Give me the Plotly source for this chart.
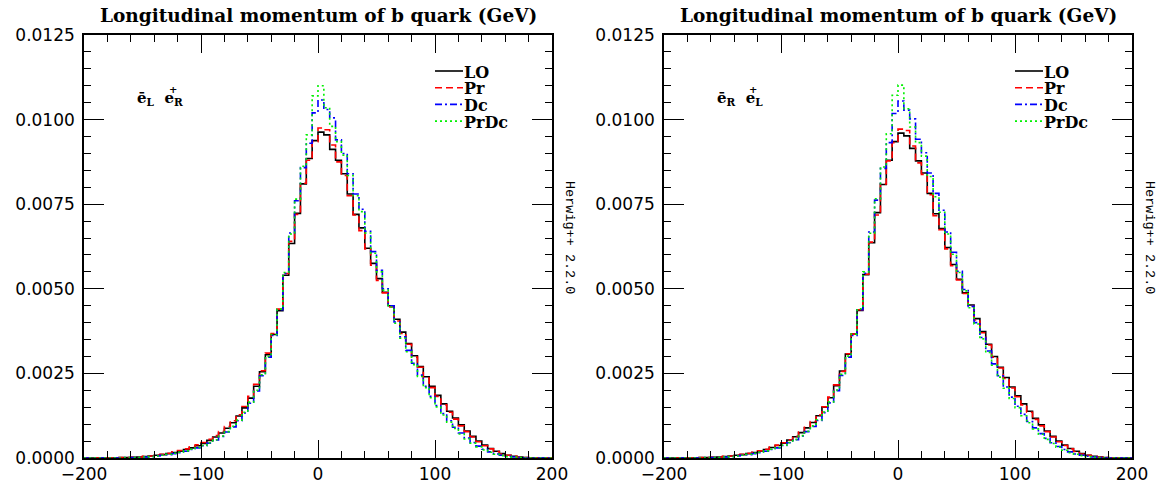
import plotly.graph_objects as go

W, H = 1176, 492

# 5 GeV bins from -200 to 200 GeV (left edges)
bin_left = list(range(-200, 200, 5))

# ---- left panel: e_L^- e_R^+ ----
lo_left = [0, 0, 0, 0, 0, 0, 0.00001, 0.00001, 0.00002, 0.00003,
           0.00004, 0.00006, 0.00008, 0.00010, 0.00013, 0.00016, 0.00020, 0.00025, 0.00030, 0.00036,
           0.00043, 0.00052, 0.00062, 0.00074, 0.00088, 0.00104, 0.00124, 0.00148, 0.00177, 0.00212,
           0.00255, 0.00305, 0.00365, 0.00435, 0.00540, 0.00634, 0.00723, 0.00810, 0.00885, 0.00938,
           0.00963, 0.00955, 0.00912, 0.00880, 0.00840, 0.00780, 0.00720, 0.00680, 0.00620, 0.00575,
           0.00530, 0.00490, 0.00450, 0.00410, 0.00372, 0.00338, 0.00302, 0.00270, 0.00240, 0.00212,
           0.00185, 0.00160, 0.00138, 0.00118, 0.00098, 0.00080, 0.00064, 0.00050, 0.00038, 0.00028,
           0.00020, 0.00013, 0.00008, 0.00005, 0.00003, 0.00001, 0, 0, 0, 0]
pr_left = [0, 0, 0, 0, 0, 0, 0.00001, 0.00001, 0.00002, 0.00003,
           0.00005, 0.00006, 0.00009, 0.00011, 0.00014, 0.00018, 0.00022, 0.00027, 0.00033, 0.00039,
           0.00046, 0.00055, 0.00066, 0.00078, 0.00093, 0.00110, 0.00128, 0.00152, 0.00182, 0.00218,
           0.00258, 0.00310, 0.00368, 0.00440, 0.00545, 0.00640, 0.00720, 0.00812, 0.00880, 0.00935,
           0.00975, 0.00970, 0.00925, 0.00875, 0.00835, 0.00775, 0.00718, 0.00672, 0.00618, 0.00570,
           0.00525, 0.00488, 0.00446, 0.00405, 0.00368, 0.00336, 0.00298, 0.00268, 0.00236, 0.00208,
           0.00182, 0.00157, 0.00135, 0.00115, 0.00095, 0.00078, 0.00062, 0.00048, 0.00036, 0.00027,
           0.00019, 0.00012, 0.00008, 0.00005, 0.00002, 0.00001, 0, 0, 0, 0]
dc_left = [0, 0, 0, 0, 0, 0, 0, 0.00001, 0.00001, 0.00002,
           0.00003, 0.00004, 0.00006, 0.00008, 0.00010, 0.00013, 0.00016, 0.00020, 0.00025, 0.00030,
           0.00036, 0.00044, 0.00053, 0.00064, 0.00077, 0.00092, 0.00110, 0.00133, 0.00162, 0.00198,
           0.00243, 0.00298, 0.00362, 0.00438, 0.00545, 0.00665, 0.00760, 0.00858, 0.00930, 0.01020,
           0.01058, 0.01030, 0.01005, 0.00940, 0.00900, 0.00840, 0.00780, 0.00735, 0.00670, 0.00610,
           0.00555, 0.00500, 0.00450, 0.00402, 0.00358, 0.00318, 0.00280, 0.00245, 0.00212, 0.00182,
           0.00155, 0.00131, 0.00110, 0.00091, 0.00074, 0.00059, 0.00046, 0.00035, 0.00026, 0.00018,
           0.00012, 0.00008, 0.00005, 0.00003, 0.00001, 0, 0, 0, 0, 0]
prdc_left = [0, 0, 0, 0, 0, 0, 0, 0.00001, 0.00001, 0.00002,
             0.00003, 0.00004, 0.00006, 0.00008, 0.00011, 0.00014, 0.00017, 0.00021, 0.00026, 0.00031,
             0.00037, 0.00045, 0.00054, 0.00065, 0.00078, 0.00094, 0.00112, 0.00135, 0.00165, 0.00200,
             0.00246, 0.00300, 0.00365, 0.00440, 0.00548, 0.00662, 0.00765, 0.00862, 0.00955, 0.01070,
             0.01100, 0.01035, 0.00980, 0.00935, 0.00895, 0.00835, 0.00775, 0.00728, 0.00665, 0.00605,
             0.00550, 0.00496, 0.00446, 0.00398, 0.00354, 0.00314, 0.00276, 0.00241, 0.00208, 0.00178,
             0.00151, 0.00127, 0.00106, 0.00087, 0.00071, 0.00056, 0.00044, 0.00033, 0.00024, 0.00017,
             0.00011, 0.00007, 0.00004, 0.00002, 0.00001, 0, 0, 0, 0, 0]

# ---- right panel: e_R^- e_L^+ ----
lo_right = [0, 0, 0, 0, 0, 0, 0.00001, 0.00001, 0.00002, 0.00003,
            0.00004, 0.00006, 0.00008, 0.00010, 0.00013, 0.00016, 0.00020, 0.00025, 0.00031, 0.00037,
            0.00044, 0.00053, 0.00063, 0.00075, 0.00089, 0.00105, 0.00125, 0.00150, 0.00178, 0.00214,
            0.00257, 0.00307, 0.00366, 0.00436, 0.00542, 0.00636, 0.00725, 0.00808, 0.00880, 0.00935,
            0.00960, 0.00952, 0.00915, 0.00878, 0.00842, 0.00782, 0.00722, 0.00678, 0.00622, 0.00572,
            0.00528, 0.00488, 0.00452, 0.00412, 0.00374, 0.00336, 0.00300, 0.00268, 0.00238, 0.00210,
            0.00184, 0.00160, 0.00138, 0.00117, 0.00098, 0.00080, 0.00064, 0.00050, 0.00038, 0.00028,
            0.00020, 0.00013, 0.00008, 0.00005, 0.00003, 0.00001, 0, 0, 0, 0]
pr_right = [0, 0, 0, 0, 0, 0, 0.00001, 0.00001, 0.00002, 0.00003,
            0.00005, 0.00006, 0.00009, 0.00011, 0.00014, 0.00017, 0.00021, 0.00026, 0.00032, 0.00038,
            0.00045, 0.00054, 0.00064, 0.00077, 0.00091, 0.00108, 0.00127, 0.00151, 0.00180, 0.00216,
            0.00256, 0.00308, 0.00366, 0.00438, 0.00543, 0.00638, 0.00718, 0.00810, 0.00878, 0.00932,
            0.00972, 0.00968, 0.00922, 0.00872, 0.00838, 0.00778, 0.00716, 0.00675, 0.00618, 0.00568,
            0.00526, 0.00486, 0.00448, 0.00408, 0.00370, 0.00334, 0.00298, 0.00266, 0.00235, 0.00207,
            0.00181, 0.00157, 0.00135, 0.00114, 0.00095, 0.00078, 0.00062, 0.00048, 0.00037, 0.00027,
            0.00019, 0.00012, 0.00008, 0.00005, 0.00002, 0.00001, 0, 0, 0, 0]
dc_right = [0, 0, 0, 0, 0, 0, 0, 0.00001, 0.00001, 0.00002,
            0.00003, 0.00004, 0.00006, 0.00008, 0.00010, 0.00013, 0.00016, 0.00020, 0.00025, 0.00030,
            0.00037, 0.00045, 0.00054, 0.00065, 0.00078, 0.00093, 0.00111, 0.00134, 0.00163, 0.00199,
            0.00244, 0.00298, 0.00362, 0.00438, 0.00546, 0.00668, 0.00762, 0.00856, 0.00932, 0.01018,
            0.01055, 0.01028, 0.01002, 0.00942, 0.00902, 0.00842, 0.00782, 0.00732, 0.00668, 0.00608,
            0.00552, 0.00498, 0.00448, 0.00400, 0.00356, 0.00316, 0.00278, 0.00243, 0.00210, 0.00180,
            0.00153, 0.00129, 0.00108, 0.00089, 0.00072, 0.00058, 0.00045, 0.00034, 0.00025, 0.00018,
            0.00012, 0.00008, 0.00005, 0.00003, 0.00001, 0, 0, 0, 0, 0]
prdc_right = [0, 0, 0, 0, 0, 0, 0, 0.00001, 0.00001, 0.00002,
              0.00003, 0.00004, 0.00006, 0.00008, 0.00011, 0.00014, 0.00017, 0.00021, 0.00026, 0.00031,
              0.00038, 0.00046, 0.00055, 0.00066, 0.00079, 0.00095, 0.00113, 0.00136, 0.00166, 0.00201,
              0.00247, 0.00301, 0.00366, 0.00441, 0.00550, 0.00664, 0.00766, 0.00860, 0.00958, 0.01072,
              0.01102, 0.01032, 0.00978, 0.00932, 0.00892, 0.00832, 0.00772, 0.00726, 0.00662, 0.00602,
              0.00548, 0.00494, 0.00444, 0.00396, 0.00352, 0.00312, 0.00274, 0.00239, 0.00206, 0.00176,
              0.00149, 0.00125, 0.00104, 0.00086, 0.00070, 0.00055, 0.00043, 0.00032, 0.00023, 0.00016,
              0.00011, 0.00007, 0.00004, 0.00002, 0.00001, 0, 0, 0, 0, 0]

series_names = ["LO", "Pr", "Dc", "PrDc"]
series_colors = ["#000000", "#ff0000", "#0000ff", "#00f000"]
series_dash = ["solid", "7px,4px", "7px,3px,2px,3px", "2px,3px"]

panels = [
    dict(data=[lo_left, pr_left, dc_left, prdc_left], x0=84, x1=552, sub="L", sub2="R"),
    dict(data=[lo_right, pr_right, dc_right, prdc_right], x0=664, x1=1132, sub="R", sub2="L"),
]
Y_TOP, Y_BOT = 35, 458

SERIF = "DejaVu Serif"
SANS = "DejaVu Sans"


def px(x):
    return x / W


def py(y):
    return 1 - y / H


fig = go.Figure()
annotations = []
shapes = []

for k, p in enumerate(panels):
    xa = "x" if k == 0 else "x2"
    ya = "y" if k == 0 else "y2"
    for vals, name, col, dash in zip(p["data"], series_names, series_colors, series_dash):
        xs = bin_left + [200]
        ys = vals + [vals[-1]]
        fig.add_trace(go.Scatter(
            x=xs, y=ys, mode="lines", name=name, showlegend=False,
            line=dict(shape="hv", color=col, width=1.6, dash=dash),
            xaxis=xa, yaxis=ya, hoverinfo="skip"))

    axis_common = dict(showline=True, linecolor="black", linewidth=1.6, mirror="allticks",
                       ticks="inside", tickcolor="black", tickwidth=1.3, showgrid=False,
                       zeroline=False, automargin=False)
    xkey = "xaxis" if k == 0 else "xaxis2"
    ykey = "yaxis" if k == 0 else "yaxis2"
    fig.layout[xkey] = dict(
        axis_common, domain=[px(p["x0"]), px(p["x1"])], range=[-200, 200],
        tick0=0, dtick=100, ticklen=18,
        minor=dict(dtick=20, ticklen=7, ticks="inside", tickcolor="black", tickwidth=1.3),
        tickfont=dict(family=SANS, size=17, color="black"),
        anchor=ya)
    fig.layout[ykey] = dict(
        axis_common, domain=[py(Y_BOT), py(Y_TOP)], range=[0, 0.0125],
        tick0=0, dtick=0.0025, ticklen=20, tickformat=".4f",
        minor=dict(dtick=0.0005, ticklen=7, ticks="inside", tickcolor="black", tickwidth=1.3),
        tickfont=dict(family=SANS, size=17, color="black"),
        ticklabelstandoff=4,
        anchor=xa)

    x0 = p["x0"]
    mid = (p["x0"] + p["x1"]) / 2
    # title above the frame
    annotations.append(dict(
        text="<b>Longitudinal momentum of b quark (GeV)</b>", x=px(mid), y=py(15),
        xref="paper", yref="paper", showarrow=False, xanchor="center", yanchor="middle",
        font=dict(family=SERIF, size=18.5, color="black")))
    # helicity label
    annotations.append(dict(
        text="<b>ē<sub>%s</sub>  e<sub>%s</sub></b>" % (p["sub"], p["sub2"]),
        x=px(x0 + 51), y=py(98), xref="paper", yref="paper", showarrow=False,
        xanchor="left", yanchor="middle", font=dict(family=SERIF, size=15, color="black")))
    annotations.append(dict(
        text="<b>+</b>", x=px(x0 + 89), y=py(90), xref="paper", yref="paper", showarrow=False,
        xanchor="center", yanchor="middle", font=dict(family=SERIF, size=10, color="black")))
    # generator tag on the right side of the frame
    annotations.append(dict(
        text="Herwig++ 2.2.0", x=px(p["x1"] + 18), y=py(237), xref="paper", yref="paper",
        showarrow=False, textangle=90, xanchor="center", yanchor="middle",
        font=dict(family="Liberation Mono", size=13.5, color="black")))
    # key
    for i, (name, col, dash) in enumerate(zip(series_names, series_colors, series_dash)):
        yy = 71 + i * 16.7
        shapes.append(dict(type="line", xref="paper", yref="paper",
                           x0=px(x0 + 351), x1=px(x0 + 379), y0=py(yy), y1=py(yy),
                           line=dict(color=col, width=1.6, dash=dash)))
        annotations.append(dict(
            text="<b>%s</b>" % name, x=px(x0 + 378), y=py(yy + 1), xref="paper", yref="paper",
            showarrow=False, xanchor="left", yanchor="middle",
            font=dict(family=SERIF, size=16, color="black")))

fig.update_layout(
    width=W, height=H, margin=dict(l=0, r=0, t=0, b=0, autoexpand=False),
    paper_bgcolor="white", plot_bgcolor="white",
    annotations=annotations, shapes=shapes, showlegend=False)

fig.write_html("out.html", config=dict(displayModeBar=False))
